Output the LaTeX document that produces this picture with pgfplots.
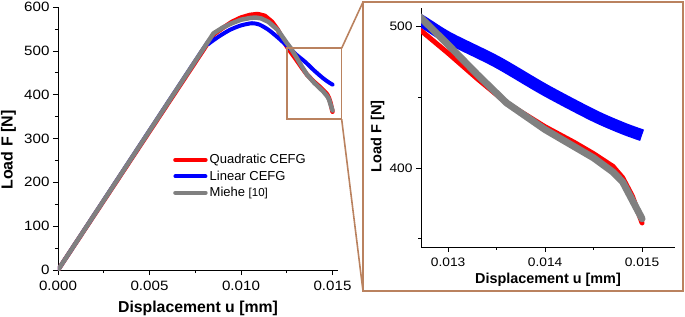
\documentclass[border=0pt]{standalone}
\usepackage{pgfplots}
\pgfplotsset{compat=1.18}
\usepackage{pgfplotstable}
\usepackage{fontspec}
\setmainfont{Liberation Sans}
\newfontfamily\tickfont[FakeStretch=1.12]{Liberation Sans}
\definecolor{framecol}{RGB}{186,130,95}
\definecolor{cefgred}{RGB}{255,0,0}
\definecolor{cefgblue}{RGB}{0,0,255}
\definecolor{mgray}{RGB}{128,128,128}

\pgfplotstableread{
u F
0 0
0.0085 537
0.0090 552
0.0095 566
0.0100 576
0.0105 582
0.0109 584
0.0113 580
0.0117 566
0.0120 549
0.0125 510
0.01272 497
0.0130 481
0.0133 463
0.0136 446
0.0140 429
0.0143 418
0.0145 410
0.0147 401
0.0148 393
0.0149 380
0.0150 361
}\quadtab

\pgfplotstableread{
u F
0 0
0.0078 496
0.0082 515
0.0088 533
0.0094 548
0.0100 558
0.0106 563
0.0110 560
0.0115 548
0.0120 531
0.0125 512
0.01272 504
0.0130 492
0.0135 475
0.0140 455
0.0145 437
0.0148 428
0.0150 423
}\lintab

\pgfplotstableread{
u F
0 0
0.0085 540
0.0090 553
0.0095 563
0.0100 571
0.0105 575
0.0108 576
0.0111 574
0.0115 566
0.0120 548
0.0125 518
0.01272 506
0.0130 487
0.0133 466
0.0136 446
0.0140 427
0.0143 415
0.0145 407
0.0147 397
0.0148 390
0.0149 377
0.0150 364
}\mietab

\begin{document}
\begin{tikzpicture}
\useasboundingbox (-58pt,-46pt) rectangle (627pt,270pt);
\pgfplotsset{
  origstyle/.style={
    scale only axis,
    axis lines*=left,
    axis line style={black, line width=0.8pt},
    tick align=outside,
    major tick length=5pt,
    minor tick length=3pt,
    every tick/.style={black, line width=0.6pt},
    /pgf/number format/assume math mode=true,
    clip mode=individual,
  }
}
\begin{axis}[origstyle,
  at={(0pt,0pt)}, anchor=south west,
  width=280pt, height=263pt,
  xmin=0, xmax=0.0153, ymin=0, ymax=600,
  xtick={0,0.005,0.010,0.015},
  xticklabels={0.000,0.005,0.010,0.015},
  minor x tick num=1,
  ytick={0,100,200,300,400,500,600},
  minor y tick num=1,
  scaled x ticks=false,
  tick label style={font=\tickfont\fontsize{13.5}{15}\selectfont},
  xticklabel shift=3pt,
  xlabel={\textbf{Displacement u [mm]}},
  ylabel={\textbf{Load F [N]}},
  every axis x label/.style={at={(axis description cs:0.5,0)}, yshift=-42pt, anchor=base, font=\fontsize{15.8}{17}\selectfont},
  every axis y label/.style={at={(axis description cs:0,0.456)}, xshift=-49.5pt, rotate=90, anchor=center, font=\fontsize{16}{17}\selectfont},
  legend style={draw=none, fill=none, at={(0.4,0.455)}, anchor=north west, font=\fontsize{13}{14}\selectfont, row sep=1.5pt},
  legend cell align=left,
  legend image code/.code={\draw[#1, line cap=round] (0pt,0pt) -- (30pt,0pt);},
]
\addplot[cefgred, line width=4.5pt, line cap=round, line join=round] table[x=u,y=F] {\quadtab};
\addlegendentry{Quadratic CEFG}
\addplot[cefgblue, line width=4pt, line cap=round, line join=round, smooth, tension=0.4] table[x=u,y=F] {\lintab};
\addlegendentry{Linear CEFG}
\addplot[mgray, line width=4.5pt, line cap=round, line join=round] table[x=u,y=F] {\mietab};
\addlegendentry{Miehe {\fontsize{11.5}{13}\selectfont[10]}}
\draw[framecol, line width=1.6pt] (axis cs:0.0125,344) rectangle (axis cs:0.0155,506);
\coordinate (rtr) at (axis cs:0.0155,506);
\coordinate (rbr) at (axis cs:0.0155,344);
\end{axis}

\draw[framecol, line width=1.6pt] (rtr) -- (305pt,268pt);
\draw[framecol, line width=1.6pt] (rbr) -- (305pt,-21pt);
\draw[framecol, line width=1.8pt] (305pt,-21pt) rectangle (625pt,268pt);

\begin{axis}[origstyle,
  at={(363pt,23pt)}, anchor=south west,
  width=254pt, height=239pt,
  xmin=0.01272, xmax=0.01534, ymin=344, ymax=513,
  xtick={0.013,0.014,0.015},
  xticklabels={0.013,0.014,0.015},
  minor x tick num=1,
  ytick={400,500},
  minor ytick={350,450},
  scaled x ticks=false,
  tick label style={font=\tickfont\fontsize{12.3}{14}\selectfont},
  xticklabel shift=2pt,
  xlabel={\textbf{Displacement u [mm]}},
  ylabel={\textbf{Load F [N]}},
  every axis x label/.style={at={(axis description cs:0.5,0)}, yshift=-37pt, anchor=base, font=\fontsize{14.4}{15}\selectfont},
  every axis y label/.style={at={(axis description cs:0,0.462)}, xshift=-43.5pt, rotate=90, anchor=center, font=\fontsize{14.6}{15}\selectfont},
]
\addplot[cefgred, line width=5pt, line cap=round, line join=round] table[x=u,y=F] {\quadtab};
\addplot[cefgblue, line width=12pt, line join=round, smooth, tension=0.5] table[x=u,y=F] {\lintab};
\addplot[mgray, line width=7pt, line cap=round, line join=round] table[x=u,y=F] {\mietab};
\end{axis}
\end{tikzpicture}
\end{document}
